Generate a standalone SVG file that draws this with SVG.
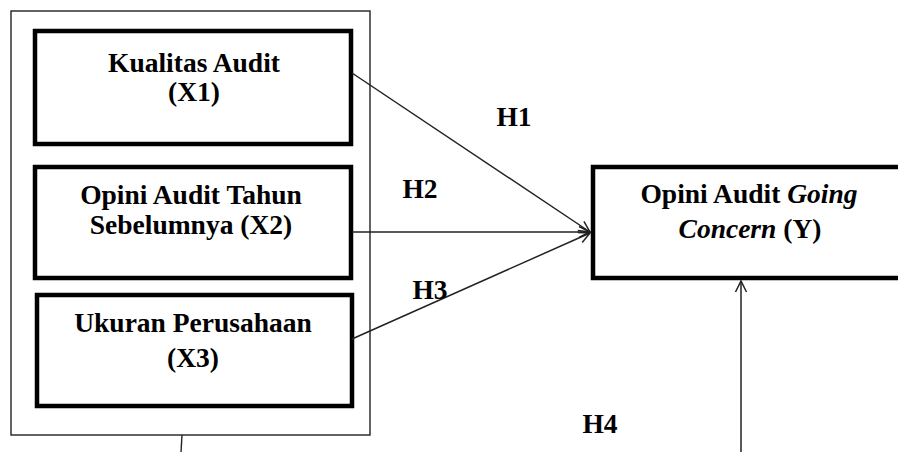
<svg xmlns="http://www.w3.org/2000/svg" width="898" height="452" viewBox="0 0 898 452">
<style>
.box{fill:#fff;stroke:#000;stroke-width:4.5}
.outer{fill:none;stroke:#222;stroke-width:1.4}
.t{font-family:"Liberation Serif","Times New Roman",serif;font-weight:bold;font-size:27.5px;fill:#000;text-anchor:middle}
.c{stroke:#222;stroke-width:1.5;fill:none}
</style>
<defs>
<marker id="ah" markerUnits="userSpaceOnUse" markerWidth="14" markerHeight="14" refX="12" refY="7" orient="auto" viewBox="0 0 14 14">
<path d="M1,1.5 L12,7 L1,12.5" fill="none" stroke="#222" stroke-width="1.5"/>
</marker>
</defs>
<rect width="898" height="452" fill="#fff"/>
<g id="group-x">
<rect class="outer" x="11" y="11" width="359" height="424"/>
<line class="outer" x1="182" y1="435" x2="181" y2="452"/>
</g>
<g id="x1">
<rect class="box" x="35" y="31" width="316" height="113"/>
<text class="t" x="194" y="72">Kualitas Audit</text>
<text class="t" x="194" y="101">(X1)</text>
</g>
<g id="x2">
<rect class="box" x="35" y="167" width="316" height="111"/>
<text class="t" x="191" y="204">Opini Audit Tahun</text>
<text class="t" x="191" y="234">Sebelumnya (X2)</text>
</g>
<g id="x3">
<rect class="box" x="37" y="295" width="315" height="111"/>
<text class="t" x="193" y="332">Ukuran Perusahaan</text>
<text class="t" x="193" y="367">(X3)</text>
</g>
<g id="y">
<rect class="box" x="593" y="167" width="320" height="111"/>
<text class="t" x="749" y="203">Opini Audit <tspan font-style="italic">Going</tspan></text>
<text class="t" x="750" y="238"><tspan font-style="italic">Concern</tspan> (Y)</text>
</g>
<g id="connectors">
<line class="c" x1="352" y1="73" x2="590" y2="232" marker-end="url(#ah)"/>
<line class="c" x1="352" y1="232" x2="590" y2="232" marker-end="url(#ah)"/>
<line class="c" x1="352" y1="339" x2="590" y2="233" marker-end="url(#ah)"/>
<line class="c" x1="741" y1="452" x2="741" y2="281" marker-end="url(#ah)"/>
</g>
<g id="labels">
<text class="t" x="514" y="126">H1</text>
<text class="t" x="420" y="198">H2</text>
<text class="t" x="430" y="299">H3</text>
<text class="t" x="600" y="433">H4</text>
</g>
</svg>
